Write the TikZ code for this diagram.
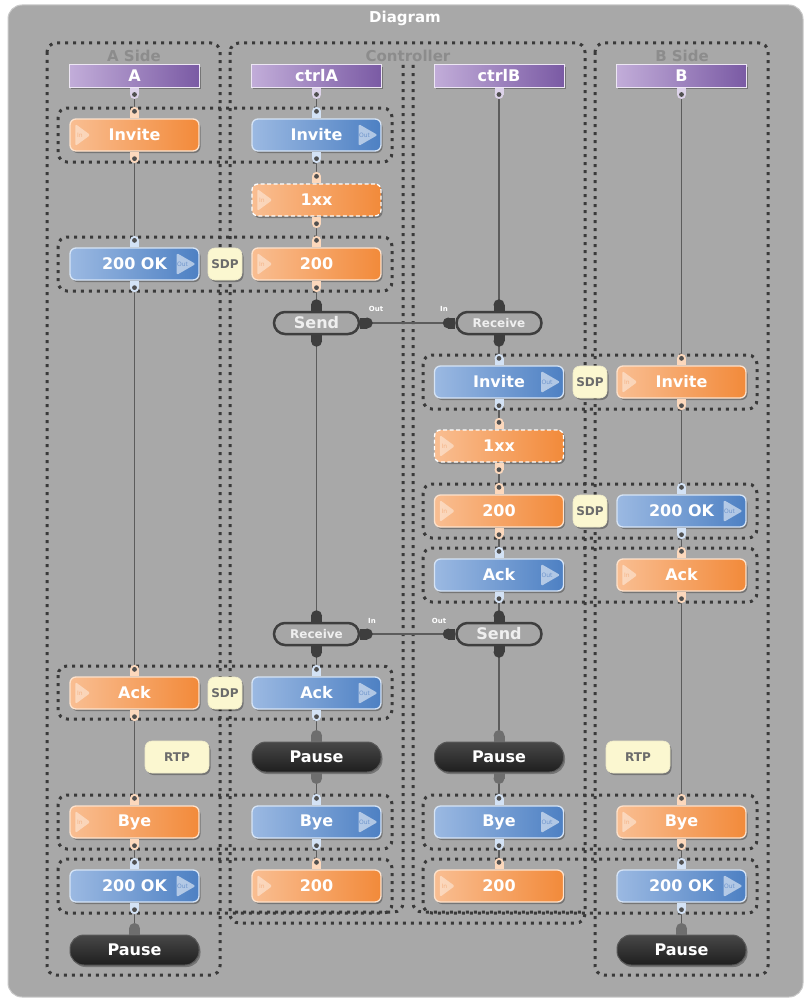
\documentclass[tikz,border=0pt]{standalone}
\usepackage{fontspec}
\setmainfont{DejaVu Sans}
\usetikzlibrary{shadows}
\definecolor{panel}{HTML}{A8A8A8}
\definecolor{panelB}{HTML}{C9C9C9}
\definecolor{lbl}{HTML}{8C8C8C}
\definecolor{grpC}{HTML}{3A3A3A}
\definecolor{orL}{HTML}{F9BE92}
\definecolor{orR}{HTML}{F28A3A}
\definecolor{orB}{HTML}{FDE2CC}
\definecolor{orI}{HTML}{F4B487}
\definecolor{orT}{HTML}{FCD8BC}
\definecolor{blL}{HTML}{9BB9E2}
\definecolor{blR}{HTML}{4D80C3}
\definecolor{blB}{HTML}{D6E4F6}
\definecolor{blI}{HTML}{6F95CC}
\definecolor{blT}{HTML}{D3E2F5}
\definecolor{puL}{HTML}{C2ADD9}
\definecolor{puR}{HTML}{7A5AA4}
\definecolor{puB}{HTML}{EDE6F4}
\definecolor{puT}{HTML}{DDD3EA}
\definecolor{srF}{HTML}{A6A6A6}
\definecolor{srD}{HTML}{3E3E3E}
\definecolor{srT}{HTML}{EFEFEF}
\definecolor{pzT}{HTML}{6E6E6E}
\definecolor{pdot}{HTML}{505050}
\definecolor{linkC}{HTML}{5C5C5C}
\definecolor{noteF}{HTML}{FBF7D0}
\definecolor{noteT}{HTML}{6B6B6B}
\pgfdeclarelayer{bg}
\pgfdeclarelayer{mid}
\pgfsetlayers{bg,mid,main}
\newcommand\myfs[1]{\fontsize{#1}{#1}\selectfont}
\tikzset{
  shad/.style={drop shadow={shadow xshift=1.5pt,shadow yshift=-2pt,opacity=.3,fill=black}},
  box/.style={minimum width=129pt,minimum height=32pt,rounded corners=6pt,line width=1.3pt,
    text=white,font=\bfseries\myfs{16},shad,inner sep=0pt},
  obox/.style={box,left color=orL,right color=orR,draw=orB},
  bbox/.style={box,left color=blL,right color=blR,draw=blB},
  dbox/.style={obox,draw=white,dash pattern=on 4pt off 2.5pt},
  hdr/.style={minimum width=130pt,minimum height=22pt,inner sep=0pt,left color=puL,right color=puR,
    draw=puB,line width=1pt,text=white,font=\bfseries\myfs{16},shad},
  srbox/.style={minimum width=85pt,minimum height=22pt,inner sep=0pt,rounded corners=11pt,
    fill=srF,draw=srD,line width=2.5pt,text=srT,font=\bfseries\myfs{16}},
  rcvbox/.style={srbox,font=\bfseries\myfs{12}},
  pz/.style={minimum width=129pt,minimum height=30pt,inner sep=0pt,rounded corners=14pt,
    top color=black!72,bottom color=black!88,draw=black!65,line width=1pt,text=white,
    font=\bfseries\myfs{16},shad},
  note/.style={minimum width=34pt,minimum height=32pt,inner sep=0pt,rounded corners=7pt,
    fill=noteF,draw=noteF!90!gray,line width=.6pt,text=noteT,font=\bfseries\myfs{12},shad},
  grp/.style={draw=grpC,line width=3pt,dash pattern=on 3pt off 5pt,rounded corners=9pt},
  grplbl/.style={text=lbl,font=\bfseries\myfs{15},inner sep=0pt},
  link/.style={draw=linkC,line width=1.6pt},
  plbl/.style={text=white,font=\bfseries\myfs{7},inner sep=0pt},
}
\newcommand\inicon[1]{%
  \fill[white,opacity=.42,rounded corners=1.5pt] ([xshift=6pt,yshift=11pt]#1.west) -- ([xshift=6pt,yshift=-11pt]#1.west) -- ([xshift=21pt]#1.west) -- cycle;
  \node[inner sep=0pt,text=orI,font=\myfs{6}] at ([xshift=10.5pt]#1.west) {In};}
\newcommand\outicon[1]{%
  \fill[white,opacity=.55,rounded corners=1.5pt] ([xshift=-23pt,yshift=11pt]#1.east) -- ([xshift=-23pt,yshift=-11pt]#1.east) -- ([xshift=-4pt]#1.east) -- cycle;
  \node[inner sep=0pt,text=blI,font=\myfs{6}] at ([xshift=-17pt]#1.east) {Out};}
\newcommand\tabT[2]{%
  \fill[#2] ([xshift=-4.5pt]#1.north) rectangle ([xshift=4.5pt,yshift=7pt]#1.north);
  \fill[#2] ([yshift=7pt]#1.north) circle (4.5pt);
  \fill[pdot] ([yshift=7pt]#1.north) circle (2.4pt);}
\newcommand\tabB[2]{%
  \fill[#2] ([xshift=-4.5pt]#1.south) rectangle ([xshift=4.5pt,yshift=-7pt]#1.south);
  \fill[#2] ([yshift=-7pt]#1.south) circle (4.5pt);
  \fill[pdot] ([yshift=-7pt]#1.south) circle (2.4pt);}
\newcommand\blobT[2]{%
  \fill[#2] ([xshift=-5.5pt]#1.north) rectangle ([xshift=5.5pt,yshift=6pt]#1.north);
  \fill[#2] ([yshift=6pt]#1.north) circle (5.5pt);}
\newcommand\blobB[2]{%
  \fill[#2] ([xshift=-5.5pt]#1.south) rectangle ([xshift=5.5pt,yshift=-6pt]#1.south);
  \fill[#2] ([yshift=-6pt]#1.south) circle (5.5pt);}
\newcommand\blobE[1]{%
  \fill[srD] ([yshift=-5.5pt]#1.east) rectangle ([xshift=7pt,yshift=5.5pt]#1.east);
  \fill[srD] ([xshift=7pt]#1.east) circle (5.5pt);}
\newcommand\blobW[1]{%
  \fill[srD] ([yshift=-5.5pt]#1.west) rectangle ([xshift=-7pt,yshift=5.5pt]#1.west);
  \fill[srD] ([xshift=-7pt]#1.west) circle (5.5pt);}
\newcommand\vlink[2]{\draw[link] ([yshift=-7pt]#1.south) -- ([yshift=7pt]#2.north);}
\begin{document}
\begin{tikzpicture}[x=1pt,y=-1pt]
\useasboundingbox (0,0) rectangle (807,998);
\begin{pgfonlayer}{bg}
\fill[white] (0,0) rectangle (807,998);
\draw[fill=panel,draw=panelB,line width=1pt,rounded corners=14pt] (8,5) rectangle (803,997);
% column groups
\draw[grp] (47,43) rectangle (220,975);
\draw[grp] (230,43) rectangle (585,923);
\draw[grp] (595,43) rectangle (768,975);
\draw[grp] (403,65) -- (403,912) -- (230,912);
\draw[grp] (413,65) -- (413,912) -- (585,912);
% row groups
\draw[grp] (58,108) rectangle (392,162);
\draw[grp] (58,237) rectangle (392,291);
\draw[grp] (423,355) rectangle (757,409);
\draw[grp] (423,484) rectangle (757,538);
\draw[grp] (423,548) rectangle (757,602);
\draw[grp] (58,666) rectangle (392,719);
\draw[grp] (58,795) rectangle (392,849);
\draw[grp] (58,859) rectangle (392,913);
\draw[grp] (423,795) rectangle (757,849);
\draw[grp] (423,859) rectangle (757,913);
\end{pgfonlayer}

\node[text=white,font=\bfseries\myfs{15},inner sep=0pt] (title) at (405,18) {Diagram};
\node[grplbl] (lA) at (134,56) {A Side};
\node[grplbl] (lC) at (408,56) {Controller};
\node[grplbl] (lB) at (682,56) {B Side};

% headers
\node[hdr] (hA) at (134.5,76) {A};
\node[hdr] (hCA) at (316.5,76) {ctrlA};
\node[hdr] (hCB) at (499,76) {ctrlB};
\node[hdr] (hB) at (681.5,76) {B};

% A column
\node[obox] (a1) at (134.5,135) {Invite};
\node[bbox] (a2) at (134.5,264) {200 OK};
\node[obox] (a3) at (134.5,693) {Ack};
\node[obox] (a4) at (134.5,822) {Bye};
\node[bbox] (a5) at (134.5,886) {200 OK};
\node[pz] (a6) at (134.5,950) {Pause};

% ctrlA column
\node[bbox] (c1) at (316.5,135) {Invite};
\node[dbox] (c2) at (316.5,200) {1xx};
\node[obox] (c3) at (316.5,264) {200};
\node[srbox] (c4) at (316.5,323) {Send};
\node[rcvbox] (c5) at (316.5,634) {Receive};
\node[bbox] (c6) at (316.5,693) {Ack};
\node[pz] (c7) at (316.5,757) {Pause};
\node[bbox] (c8) at (316.5,822) {Bye};
\node[obox] (c9) at (316.5,886) {200};

% ctrlB column
\node[rcvbox] (d1) at (499,323) {Receive};
\node[bbox] (d2) at (499,382) {Invite};
\node[dbox] (d3) at (499,446) {1xx};
\node[obox] (d4) at (499,511) {200};
\node[bbox] (d5) at (499,575) {Ack};
\node[srbox] (d6) at (499,634) {Send};
\node[pz] (d7) at (499,757) {Pause};
\node[bbox] (d8) at (499,822) {Bye};
\node[obox] (d9) at (499,886) {200};

% B column
\node[obox] (b1) at (681.5,382) {Invite};
\node[bbox] (b2) at (681.5,511) {200 OK};
\node[obox] (b3) at (681.5,575) {Ack};
\node[obox] (b4) at (681.5,822) {Bye};
\node[bbox] (b5) at (681.5,886) {200 OK};
\node[pz] (b6) at (681.5,950) {Pause};

% notes
\node[note] (s1) at (225,264) {SDP};
\node[note] (s2) at (590,382) {SDP};
\node[note] (s3) at (590,511) {SDP};
\node[note] (s4) at (225,693) {SDP};
\node[note,minimum width=64pt] (r1) at (177,757) {RTP};
\node[note,minimum width=64pt] (r2) at (638,757) {RTP};

% icons
\foreach \n in {a1,a3,a4,c2,c3,c9,d3,d4,d9,b1,b3,b4} {\inicon{\n}}
\foreach \n in {a2,a5,c1,c6,c8,d2,d5,d8,b2,b5} {\outicon{\n}}

% connectors
\begin{pgfonlayer}{mid}
\vlink{hA}{a1}\vlink{a1}{a2}\vlink{a2}{a3}\vlink{a3}{a4}\vlink{a4}{a5}\vlink{a5}{a6}
\vlink{hCA}{c1}\vlink{c1}{c2}\vlink{c2}{c3}\vlink{c3}{c4}\vlink{c4}{c5}\vlink{c5}{c6}\vlink{c6}{c7}\vlink{c7}{c8}\vlink{c8}{c9}
\vlink{hCB}{d1}\vlink{d1}{d2}\vlink{d2}{d3}\vlink{d3}{d4}\vlink{d4}{d5}\vlink{d5}{d6}\vlink{d6}{d7}\vlink{d7}{d8}\vlink{d8}{d9}
\vlink{hB}{b1}\vlink{b1}{b2}\vlink{b2}{b3}\vlink{b3}{b4}\vlink{b4}{b5}\vlink{b5}{b6}
\draw[link] ([xshift=7pt]c4.east) -- ([xshift=-7pt]d1.west);
\draw[link] ([xshift=-7pt]d6.west) -- ([xshift=7pt]c5.east);
\end{pgfonlayer}

% ports
\foreach \n in {hA,hCA,hCB,hB} {\tabB{\n}{puT}}
\foreach \n in {a1,a3,a4,c2,c3,d3,d4,b1,b3,b4} {\tabT{\n}{orT}\tabB{\n}{orT}}
\foreach \n in {c9,d9} {\tabT{\n}{orT}}
\foreach \n in {a2,a5,c1,c6,c8,d2,d5,d8,b2,b5} {\tabT{\n}{blT}\tabB{\n}{blT}}
\foreach \n in {c4,c5,d1,d6} {\blobT{\n}{srD}\blobB{\n}{srD}}
\blobE{c4}\blobE{c5}\blobW{d1}\blobW{d6}
\foreach \n in {a6,c7,d7,b6} {\blobT{\n}{pzT}}
\foreach \n in {c7,d7} {\blobB{\n}{pzT}}

% port labels
\node[plbl] (o1) at (376,309) {Out};
\node[plbl] (i1) at (444,309) {In};
\node[plbl] (i2) at (372,621) {In};
\node[plbl] (o2) at (439,621) {Out};
\end{tikzpicture}
\end{document}
